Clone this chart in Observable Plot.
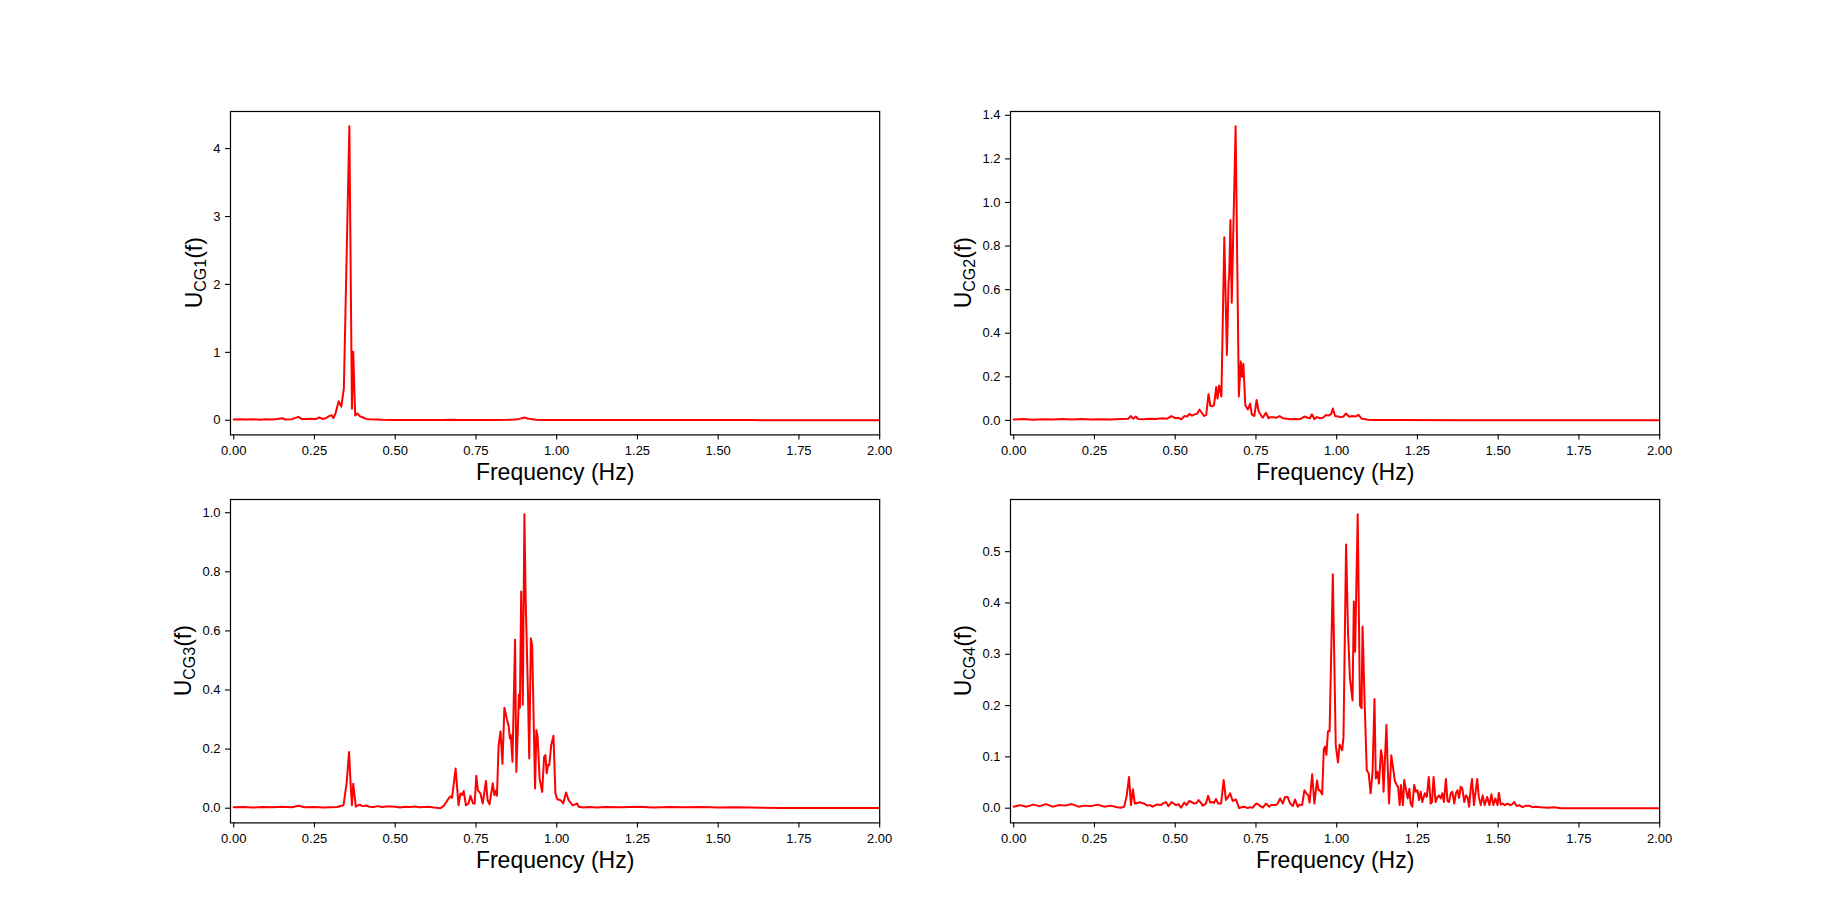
<!DOCTYPE html>
<html>
<head>
<meta charset="utf-8">
<script src="https://cdn.jsdelivr.net/npm/d3@7"></script>
<script src="https://cdn.jsdelivr.net/npm/@observablehq/plot@0.6"></script>
<style>
  html, body { margin: 0; padding: 0; background: #fff; }
  #fig { position: relative; width: 1843px; height: 924px; font-family: "Liberation Sans", Arial, sans-serif; }
  #fig svg { position: absolute; overflow: visible; max-width: none; }
</style>
</head>
<body>
<div id="fig"></div>
<script>
// ---------------- data ----------------
const seriesNames = ["CG1", "CG2", "CG3", "CG4"];
const xLabel = "Frequency (Hz)";
const xTicks = [0, 0.25, 0.5, 0.75, 1.0, 1.25, 1.5, 1.75, 2.0];
const yTicks1 = [0, 1, 2, 3, 4];
const yTicks2 = [0, 0.2, 0.4, 0.6, 0.8, 1.0, 1.2, 1.4];
const yTicks3 = [0, 0.2, 0.4, 0.6, 0.8, 1.0];
const yTicks4 = [0, 0.1, 0.2, 0.3, 0.4, 0.5];

const freq1 = [0,0.02,0.04,0.06,0.08,0.1,0.12,0.135,0.15,0.16,0.18,0.2,0.21,0.225,0.24,0.255,0.265,0.275,0.285,0.295,0.303,0.309,0.315,0.325,0.333,0.341,0.358,0.366,0.370,0.376,0.383,0.39,0.40,0.41,0.42,0.44,0.46,0.5,0.55,0.6,0.65,0.67,0.7,0.75,0.8,0.85,0.87,0.885,0.9,0.91,0.92,0.935,0.96,1.0,1.1,1.2,1.3,1.4,1.5,1.6,1.7,1.8,1.9,2.0];
const amp1  = [0.01,0.015,0.01,0.014,0.009,0.016,0.012,0.018,0.03,0.012,0.016,0.05,0.02,0.018,0.022,0.02,0.04,0.02,0.03,0.06,0.075,0.03,0.1,0.28,0.2,0.47,4.33,0.17,1.01,0.07,0.1,0.06,0.04,0.02,0.015,0.01,0.006,0.005,0.004,0.005,0.004,0.008,0.004,0.004,0.005,0.006,0.01,0.02,0.04,0.025,0.02,0.008,0.005,0.004,0.003,0.003,0.002,0.002,0.002,0.002,0.001,0.001,0.001,0.001];

const freq2 = [0,0.03,0.06,0.09,0.12,0.15,0.18,0.21,0.24,0.27,0.30,0.33,0.355,0.362,0.37,0.378,0.385,0.40,0.42,0.44,0.46,0.475,0.488,0.50,0.51,0.519,0.529,0.537,0.544,0.552,0.56,0.568,0.575,0.582,0.589,0.596,0.603,0.609,0.615,0.62,0.627,0.631,0.636,0.643,0.652,0.66,0.665,0.667,0.671,0.675,0.687,0.697,0.703,0.707,0.711,0.717,0.725,0.732,0.737,0.745,0.752,0.758,0.765,0.771,0.781,0.789,0.795,0.802,0.812,0.823,0.833,0.845,0.859,0.87,0.879,0.89,0.9,0.91,0.917,0.923,0.931,0.937,0.941,0.948,0.957,0.967,0.975,0.983,0.988,0.995,1.004,1.013,1.021,1.029,1.039,1.047,1.055,1.062,1.067,1.077,1.087,1.096,1.12,1.2,1.4,1.6,1.8,2.0];
const amp2  = [0.004,0.006,0.003,0.005,0.004,0.006,0.004,0.007,0.004,0.005,0.004,0.006,0.008,0.02,0.008,0.018,0.006,0.005,0.008,0.006,0.01,0.008,0.02,0.01,0.012,0.005,0.02,0.018,0.03,0.022,0.028,0.03,0.05,0.035,0.02,0.025,0.12,0.066,0.065,0.07,0.153,0.10,0.16,0.11,0.84,0.30,0.63,0.66,0.92,0.54,1.35,0.11,0.27,0.2,0.26,0.07,0.05,0.077,0.028,0.02,0.094,0.043,0.025,0.012,0.035,0.01,0.015,0.015,0.012,0.02,0.01,0.008,0.005,0.006,0.005,0.008,0.018,0.012,0.01,0.028,0.005,0.015,0.014,0.01,0.012,0.025,0.022,0.03,0.055,0.02,0.018,0.015,0.018,0.032,0.016,0.02,0.018,0.02,0.026,0.008,0.006,0.003,0.002,0.002,0.001,0.001,0.001,0.001];

const freq3 = [0,0.03,0.06,0.09,0.12,0.15,0.18,0.2,0.22,0.25,0.28,0.30,0.32,0.34,0.350,0.357,0.362,0.366,0.37,0.374,0.378,0.385,0.391,0.396,0.402,0.41,0.42,0.433,0.445,0.46,0.472,0.485,0.5,0.515,0.53,0.547,0.56,0.575,0.59,0.603,0.62,0.64,0.65,0.658,0.665,0.671,0.676,0.687,0.696,0.702,0.708,0.712,0.719,0.727,0.733,0.741,0.746,0.751,0.756,0.764,0.771,0.781,0.786,0.792,0.802,0.807,0.812,0.815,0.82,0.826,0.832,0.838,0.846,0.851,0.855,0.858,0.863,0.871,0.875,0.88,0.883,0.886,0.89,0.895,0.9,0.904,0.911,0.915,0.92,0.924,0.933,0.937,0.941,0.947,0.955,0.961,0.965,0.969,0.973,0.977,0.983,0.99,0.996,1.002,1.012,1.02,1.029,1.037,1.049,1.056,1.063,1.068,1.083,1.1,1.125,1.15,1.2,1.25,1.3,1.35,1.4,1.45,1.5,1.55,1.6,1.7,1.8,1.9,2.0];
const amp3  = [0.003,0.004,0.002,0.004,0.003,0.005,0.003,0.008,0.003,0.004,0.002,0.003,0.004,0.01,0.09,0.19,0.08,0.01,0.083,0.045,0.005,0.01,0.012,0.008,0.007,0.009,0.005,0.004,0.007,0.004,0.006,0.006,0.005,0.002,0.005,0.004,0.006,0.003,0.004,0.005,0.002,0.0,0.008,0.02,0.033,0.04,0.035,0.134,0.01,0.05,0.045,0.058,0.01,0.016,0.042,0.016,0.016,0.11,0.06,0.05,0.016,0.092,0.027,0.013,0.084,0.044,0.06,0.042,0.21,0.26,0.15,0.34,0.30,0.28,0.236,0.247,0.157,0.57,0.123,0.28,0.385,0.34,0.733,0.35,0.995,0.7,0.39,0.168,0.575,0.55,0.067,0.264,0.24,0.1,0.055,0.174,0.18,0.118,0.146,0.146,0.214,0.245,0.05,0.03,0.027,0.016,0.053,0.027,0.01,0.012,0.016,0.005,0.002,0.004,0.002,0.004,0.003,0.005,0.002,0.004,0.003,0.004,0.002,0.003,0.002,0.001,0.001,0.001,0.001];

const freq4 = [0,0.02,0.04,0.06,0.08,0.1,0.12,0.14,0.16,0.18,0.2,0.22,0.24,0.26,0.28,0.30,0.32,0.332,0.342,0.35,0.357,0.363,0.369,0.375,0.383,0.39,0.397,0.404,0.414,0.422,0.43,0.442,0.456,0.464,0.471,0.479,0.489,0.502,0.51,0.518,0.528,0.535,0.543,0.551,0.559,0.566,0.572,0.58,0.585,0.595,0.602,0.608,0.616,0.62,0.626,0.633,0.642,0.65,0.657,0.664,0.67,0.678,0.688,0.698,0.706,0.714,0.724,0.732,0.74,0.746,0.752,0.76,0.766,0.771,0.781,0.791,0.796,0.801,0.812,0.818,0.825,0.833,0.84,0.848,0.856,0.864,0.871,0.879,0.886,0.893,0.9,0.906,0.912,0.916,0.924,0.931,0.939,0.944,0.948,0.955,0.96,0.964,0.968,0.973,0.978,0.988,0.997,1.004,1.009,1.017,1.021,1.029,1.035,1.041,1.049,1.053,1.057,1.065,1.072,1.077,1.08,1.087,1.093,1.099,1.105,1.111,1.117,1.121,1.126,1.131,1.137,1.141,1.145,1.154,1.157,1.162,1.169,1.175,1.18,1.186,1.19,1.195,1.199,1.205,1.209,1.214,1.22,1.225,1.229,1.234,1.24,1.245,1.25,1.255,1.26,1.265,1.273,1.279,1.285,1.291,1.295,1.3,1.306,1.312,1.317,1.322,1.327,1.332,1.338,1.343,1.348,1.353,1.358,1.364,1.369,1.374,1.379,1.384,1.389,1.395,1.4,1.405,1.41,1.415,1.419,1.425,1.43,1.435,1.44,1.446,1.452,1.458,1.466,1.473,1.479,1.485,1.491,1.498,1.502,1.508,1.514,1.52,1.529,1.537,1.544,1.55,1.557,1.565,1.575,1.586,1.596,1.606,1.616,1.632,1.653,1.674,1.694,1.735,1.8,1.9,2.0];
const amp4  = [0.003,0.006,0.003,0.007,0.004,0.008,0.003,0.006,0.005,0.008,0.003,0.005,0.004,0.007,0.003,0.005,0.002,0.001,0.003,0.025,0.061,0.006,0.037,0.009,0.01,0.012,0.01,0.009,0.005,0.006,0.003,0.007,0.006,0.01,0.012,0.004,0.012,0.006,0.008,0.001,0.011,0.006,0.014,0.012,0.009,0.01,0.016,0.01,0.005,0.009,0.024,0.011,0.012,0.01,0.018,0.009,0.009,0.055,0.016,0.022,0.029,0.014,0.017,0.0,0.002,0.003,0.0,0.002,0.001,0.006,0.009,0.006,0.003,0.001,0.009,0.003,0.006,0.006,0.006,0.01,0.019,0.009,0.022,0.022,0.009,0.004,0.017,0.003,0.007,0.006,0.035,0.029,0.025,0.011,0.066,0.009,0.054,0.035,0.035,0.027,0.115,0.12,0.104,0.15,0.15,0.456,0.123,0.089,0.124,0.113,0.139,0.514,0.344,0.253,0.21,0.403,0.305,0.573,0.2,0.195,0.354,0.195,0.074,0.068,0.029,0.071,0.213,0.058,0.071,0.048,0.113,0.1,0.032,0.162,0.097,0.009,0.103,0.077,0.053,0.045,0.042,0.006,0.045,0.006,0.055,0.038,0.019,0.038,0.009,0.003,0.045,0.032,0.035,0.016,0.032,0.012,0.029,0.022,0.061,0.009,0.012,0.061,0.012,0.022,0.025,0.019,0.029,0.012,0.057,0.014,0.012,0.029,0.032,0.009,0.029,0.035,0.02,0.042,0.038,0.012,0.025,0.022,0.003,0.038,0.057,0.006,0.032,0.057,0.022,0.006,0.025,0.006,0.022,0.006,0.027,0.006,0.019,0.006,0.03,0.007,0.009,0.006,0.009,0.006,0.008,0.012,0.004,0.006,0.002,0.005,0.005,0.002,0.003,0.002,0.001,0.002,0.0,0.0,0.0,0.0,0.0];

// ---------------- layout ----------------
const frameW = 649.2, frameH = 323.4;
const colLeft = [230.4, 1009.5];
const rowTop = [110.9, 499.0];
const mL = 80, mR = 20, mT = 10, mB = 70;
const fontFamily = '"Liberation Sans", Arial, sans-serif';

const panels = [
  {f: freq1, a: amp1, name: seriesNames[0], ticks: yTicks1, fmt: d3.format("d"),   col: 0, row: 0},
  {f: freq2, a: amp2, name: seriesNames[1], ticks: yTicks2, fmt: d3.format(".1f"), col: 1, row: 0},
  {f: freq3, a: amp3, name: seriesNames[2], ticks: yTicks3, fmt: d3.format(".1f"), col: 0, row: 1},
  {f: freq4, a: amp4, name: seriesNames[3], ticks: yTicks4, fmt: d3.format(".1f"), col: 1, row: 1}
];

const fig = document.getElementById("fig");

for (const p of panels) {
  const data = p.f.map((f, i) => ({f, a: p.a[i]}));
  const lo = d3.min(p.a), hi = d3.max(p.a), pad = (hi - lo) * 0.05;
  const svg = Plot.plot({
    width: frameW + mL + mR,
    height: frameH + mT + mB,
    marginLeft: mL, marginRight: mR, marginTop: mT, marginBottom: mB,
    style: {fontFamily, fontSize: "13px", color: "black", background: "transparent", overflow: "visible"},
    x: {domain: [-0.01, 2.0]},
    y: {domain: [lo - pad, hi + pad]},
    marks: [
      Plot.line(data, {x: "f", y: "a", stroke: "#ff0000", strokeWidth: 2, clip: true}),
      Plot.frame({stroke: "black", strokeWidth: 1.2}),
      Plot.axisX({ticks: xTicks, tickFormat: d3.format(".2f"), tickSize: 5, tickPadding: 6, label: null, fontSize: 13, stroke: "black", strokeWidth: 1.1}),
      Plot.axisY({ticks: p.ticks, tickFormat: p.fmt, tickSize: 5, tickPadding: 5, label: null, fontSize: 13, stroke: "black", strokeWidth: 1.1}),
      Plot.text([xLabel], {frameAnchor: "bottom", dy: 45, lineAnchor: "bottom", fontSize: 23, fill: "black", text: d => d})
    ]
  });
  svg.style.left = (colLeft[p.col] - mL) + "px";
  svg.style.top = (rowTop[p.row] - mT) + "px";

  // y label with subscript, placed left of the tick labels
  const maxChars = d3.max(p.ticks, t => {
    const s = p.fmt(t);
    return s.replace(/\./g, "").length * 0.556 + (s.includes(".") ? 0.278 : 0);
  });
  const off = 5 + 5 + maxChars * 13 + 6 + 5;
  const t = d3.select(svg).append("text")
    .attr("transform", `translate(${mL - off},${mT + frameH / 2}) rotate(-90)`)
    .attr("text-anchor", "middle")
    .attr("font-family", fontFamily)
    .attr("font-size", 23)
    .attr("fill", "black");
  t.append("tspan").text("U");
  t.append("tspan").attr("font-size", 16).attr("dy", 4).text(p.name);
  t.append("tspan").attr("dy", -4).text("(f)");

  fig.appendChild(svg);
}
</script>
</body>
</html>
